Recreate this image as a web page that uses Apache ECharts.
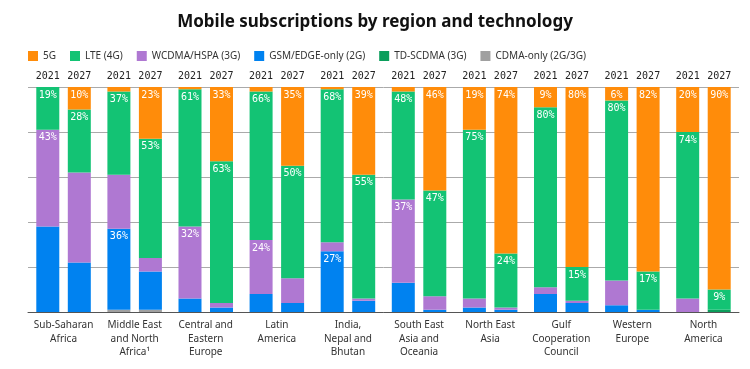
<!DOCTYPE html>
<html><head><meta charset="utf-8">
<script src="https://cdn.jsdelivr.net/npm/echarts@6/dist/echarts.min.js"></script>
<style>html,body{margin:0;padding:0;background:#fff}#c{width:750px;height:369px}</style>
</head><body><div id="c"></div>
<script>
const regions = ['Sub-Saharan\nAfrica','Middle East\nand North\nAfrica\u00B9','Central and\nEastern\nEurope','Latin\nAmerica','India,\nNepal and\nBhutan','South East\nAsia and\nOceania','North East\nAsia','Gulf\nCooperation\nCouncil','Western\nEurope','North\nAmerica'];
const years = ['2021','2027'];
const techNames = ['CDMA-only (2G/3G)','GSM/EDGE-only (2G)','WCDMA/HSPA (3G)','TD-SCDMA (3G)','LTE (4G)','5G'];
const legendOrder = ['5G','LTE (4G)','WCDMA/HSPA (3G)','GSM/EDGE-only (2G)','TD-SCDMA (3G)','CDMA-only (2G/3G)'];

// 2021 values (%)
const cdma2021  = [0,1,0,0,0,0,0,0,0,0];
const gsm2021   = [38,36,6,8,27,13,2,8,3,0];
const wcdma2021 = [43,24,32,24,4,37,4,3,11,6];
const td2021    = [0,0,0,0,0,0,0,0,0,0];
const lte2021   = [19,37,61,66,68,48,75,80,80,74];
const g5_2021   = [0,2,1,2,1,2,19,9,6,20];
// 2027 values (%)
const cdma2027  = [0,1,0,0,0,0,0,0,0,0];
const gsm2027   = [22,17,2,4,5,1,1,4,1,0];
const wcdma2027 = [40,6,2,11,1,6,1,1,0,0];
const td2027    = [0,0,0,0,0,0,0,0,0,1];
const lte2027   = [28,53,63,50,55,47,24,15,17,9];
const g5_2027   = [10,23,33,35,39,46,74,80,82,90];

// which segments carry a value label
const none = [0,0,0,0,0,0,0,0,0,0];
const lblGsm2021   = [0,1,0,0,1,0,0,0,0,0];
const lblWcdma2021 = [1,0,1,1,0,1,0,0,0,0];
const lblLte2021   = [1,1,1,1,1,1,1,1,1,1];
const lbl5G2021    = [0,0,0,0,0,0,1,1,1,1];
const lblLte2027   = [1,1,1,1,1,1,1,1,1,1];
const lbl5G2027    = [1,1,1,1,1,1,1,1,1,1];

const colors = {'5G':'#FF8C0A','LTE (4G)':'#13C374','WCDMA/HSPA (3G)':'#AF78D2','GSM/EDGE-only (2G)':'#0082F0','TD-SCDMA (3G)':'#0B9E5C','CDMA-only (2G/3G)':'#A0A0A0'};

const data = {
  '2021': [cdma2021,gsm2021,wcdma2021,td2021,lte2021,g5_2021],
  '2027': [cdma2027,gsm2027,wcdma2027,td2027,lte2027,g5_2027]
};
const lbls = {
  '2021': [none,lblGsm2021,lblWcdma2021,none,lblLte2021,lbl5G2021],
  '2027': [none,none,none,none,lblLte2027,lbl5G2027]
};
const mono = 'DejaVu Sans Mono';
const series = [];
years.forEach(y => {
  techNames.forEach((t, i) => {
    series.push({
      type:'bar', name:t, stack:y, barWidth:23, barGap:'37%',
      itemStyle:{color:colors[t]},
      label:{show:false, position:'insideTop', distance:3, color:'#fff', fontFamily:mono, fontSize:10, formatter:'{c}%'},
      data: data[y][i].map((v,k) => ({value:v, label:{show: !!lbls[y][i][k]}}))
    });
  });
  series.push({
    type:'bar', name:'yr'+y, stack:y, barWidth:23, barGap:'37%',
    itemStyle:{color:'transparent'},
    label:{show:true, position:'top', distance:6, color:'#222', fontFamily:mono, fontSize:10, formatter:y},
    data: regions.map(() => 0)
  });
});

const chart = echarts.init(document.getElementById('c'), null, {renderer:'canvas'});
chart.setOption({
  animation:false,
  title:{text:'Mobile subscriptions by region and technology', left:'center', top:9,
    textStyle:{fontFamily:'Noto Sans', fontSize:17, fontWeight:'bold', color:'#111'}},
  legend:{data:legendOrder, left:23, top:46, icon:'rect', itemWidth:10, itemHeight:10, itemGap:14,
    textStyle:{fontFamily:'Noto Sans', fontSize:10, color:'#333'}, selectedMode:false},
  color: legendOrder.map(n => colors[n]),
  grid:{left:28, right:11, top:87, bottom:57},
  xAxis:{type:'category', data:regions, axisTick:{show:false},
    axisLine:{lineStyle:{color:'#555'}},
    axisLabel:{fontFamily:'Noto Sans', fontSize:10, color:'#333', lineHeight:13.3, margin:7, interval:0}},
  yAxis:{type:'value', min:0, max:100, interval:20, axisLabel:{show:false}, axisLine:{show:false}, axisTick:{show:false},
    splitLine:{lineStyle:{color:'#aaa'}}},
  series: series
});
</script></body></html>
